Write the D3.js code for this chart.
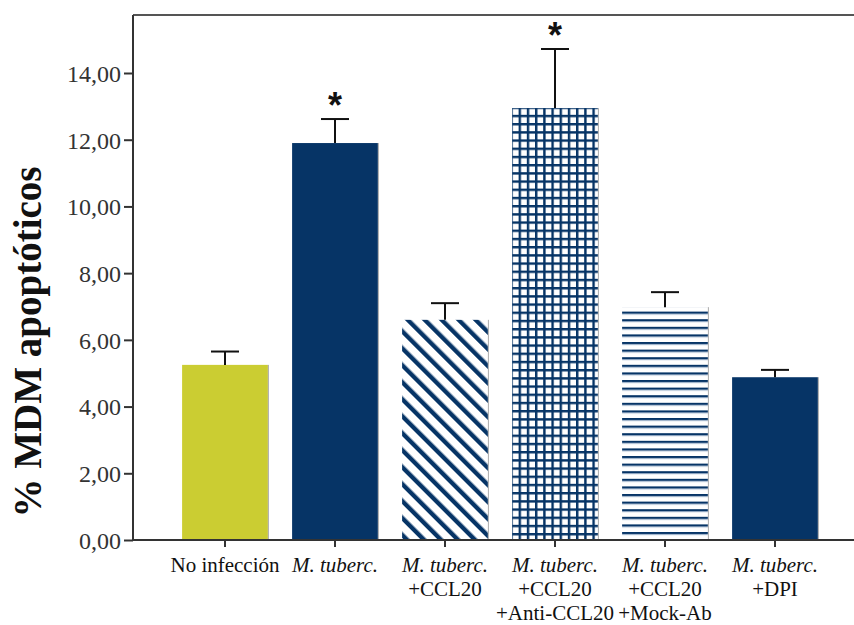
<!DOCTYPE html>
<html>
<head>
<meta charset="utf-8">
<script src="https://cdn.jsdelivr.net/npm/d3@7"></script>
<style>
  body { margin: 0; background: #fff; }
  svg { display: block; }
</style>
</head>
<body>
<div id="chart"></div>
<script>
// groups on the x axis (each label split into lines)
const groups = ["g1", "g2", "g3", "g4", "g5", "g6"];
const groupLabels = [
  [{ t: "No infección", it: false }],
  [{ t: "M. tuberc.", it: true }],
  [{ t: "M. tuberc.", it: true }, { t: "+CCL20", it: false }],
  [{ t: "M. tuberc.", it: true }, { t: "+CCL20", it: false }, { t: "+Anti-CCL20", it: false }],
  [{ t: "M. tuberc.", it: true }, { t: "+CCL20", it: false }, { t: "+Mock-Ab", it: false }],
  [{ t: "M. tuberc.", it: true }, { t: "+DPI", it: false }]
];
// mean % of apoptotic MDM and upper error
const means = [5.25, 11.9, 6.6, 12.95, 6.98, 4.88];
const errors = [0.4, 0.72, 0.5, 1.77, 0.45, 0.22];
const significant = [false, true, false, true, false, false];
const fills = ["solid-yellow", "solid-navy", "diag", "grid", "hlines", "solid-navy"];
const yTicks = [0, 2, 4, 6, 8, 10, 12, 14];

const width = 854, height = 625;
const navy = "#063466", yellow = "#cbcd32";
const axisX = 133, axisY = 540, topY = 15;
const serif = "'Liberation Serif', 'Times New Roman', serif";

const svg = d3.select("#chart").append("svg")
  .attr("width", width)
  .attr("height", height);

// patterns for the hatched bars
const defs = svg.append("defs");

const diag = defs.append("pattern")
  .attr("id", "diag")
  .attr("patternUnits", "userSpaceOnUse")
  .attr("width", 12).attr("height", 12)
  .attr("patternTransform", "rotate(-45)");
diag.append("rect").attr("width", 12).attr("height", 12).attr("fill", "#fff");
diag.append("rect").attr("x", 0).attr("y", 0).attr("width", 4.4).attr("height", 12).attr("fill", navy);

const grid = defs.append("pattern")
  .attr("id", "grid")
  .attr("patternUnits", "userSpaceOnUse")
  .attr("width", 8.2).attr("height", 8.2)
  .attr("x", 2).attr("y", 0);
grid.append("rect").attr("width", 8.2).attr("height", 8.2).attr("fill", "#fff");
grid.append("rect").attr("width", 2.4).attr("height", 8.2).attr("fill", navy);
grid.append("rect").attr("width", 8.2).attr("height", 2.4).attr("fill", navy);

const hl = defs.append("pattern")
  .attr("id", "hlines")
  .attr("patternUnits", "userSpaceOnUse")
  .attr("width", 10).attr("height", 7.6);
hl.append("rect").attr("width", 10).attr("height", 7.6).attr("fill", "#fff");
hl.append("rect").attr("y", 0).attr("width", 10).attr("height", 2).attr("fill", navy);
hl.append("rect").attr("y", 2).attr("width", 10).attr("height", 1).attr("fill", "#8fa6c2");

function fillOf(f) {
  if (f === "solid-yellow") return yellow;
  if (f === "solid-navy") return navy;
  return `url(#${f})`;
}

// scales
const x = d3.scaleBand()
  .domain(groups)
  .range([170, 830])
  .paddingInner(0.22)
  .paddingOuter(0.11);

const y = d3.scaleLinear()
  .domain([0, 14])
  .range([axisY, 73]);

// bars
svg.append("g")
  .selectAll("rect")
  .data(means)
  .enter()
  .append("rect")
  .attr("x", (d, i) => x(groups[i]))
  .attr("y", d => y(d))
  .attr("width", x.bandwidth())
  .attr("height", d => y(0) - y(d))
  .attr("fill", (d, i) => fillOf(fills[i]));

// faint right edge on bars
svg.append("g")
  .selectAll("line")
  .data(means)
  .enter()
  .append("line")
  .attr("x1", (d, i) => x(groups[i]) + x.bandwidth() + 0.5)
  .attr("x2", (d, i) => x(groups[i]) + x.bandwidth() + 0.5)
  .attr("y1", d => y(d))
  .attr("y2", y(0))
  .attr("stroke", "#aaa")
  .attr("stroke-width", 1);

// error bars (upper only)
const eb = svg.append("g").attr("stroke", "#111").attr("stroke-width", 2);
means.forEach((m, i) => {
  const cx = x(groups[i]) + x.bandwidth() / 2;
  eb.append("line")
    .attr("x1", cx).attr("x2", cx)
    .attr("y1", y(m)).attr("y2", y(m + errors[i]));
  eb.append("line")
    .attr("x1", cx - 14).attr("x2", cx + 14)
    .attr("y1", y(m + errors[i])).attr("y2", y(m + errors[i]));
  if (significant[i]) {
    svg.append("text")
      .attr("x", cx)
      .attr("y", y(m + errors[i]) - 1)
      .attr("text-anchor", "middle")
      .attr("font-family", "'Liberation Sans', Arial, sans-serif")
      .attr("font-weight", "bold")
      .attr("font-size", 36)
      .attr("fill", "#111")
      .text("*");
  }
});

// frame top line
svg.append("line")
  .attr("x1", axisX).attr("x2", width)
  .attr("y1", topY).attr("y2", topY)
  .attr("stroke", "#555").attr("stroke-width", 2);

// y axis
const fmt = d => d3.format(".2f")(d).replace(".", ",");
const yAxis = svg.append("g")
  .attr("transform", `translate(${axisX},0)`)
  .call(d3.axisLeft(y).tickValues(yTicks).tickFormat(fmt).tickSize(9).tickPadding(3));
yAxis.select(".domain").remove();
yAxis.append("line")
  .attr("x1", 0).attr("x2", 0)
  .attr("y1", topY).attr("y2", axisY)
  .attr("stroke", "#333").attr("stroke-width", 2);
yAxis.selectAll(".tick line").attr("stroke", "#333").attr("stroke-width", 2);
yAxis.selectAll(".tick text")
  .attr("font-family", serif)
  .attr("font-size", 24)
  .attr("fill", "#333")
  .attr("dy", "0.35em");

// x axis
const xAxis = svg.append("g")
  .attr("transform", `translate(0,${axisY})`)
  .call(d3.axisBottom(x).tickSize(7).tickFormat(""));
xAxis.select(".domain").remove();
xAxis.append("line")
  .attr("x1", axisX).attr("x2", width)
  .attr("y1", 0).attr("y2", 0)
  .attr("stroke", "#333").attr("stroke-width", 2);
xAxis.selectAll(".tick line").attr("stroke", "#333").attr("stroke-width", 2);

// multi-line x labels
groupLabels.forEach((lines, i) => {
  const cx = x(groups[i]) + x.bandwidth() / 2;
  lines.forEach((ln, j) => {
    svg.append("text")
      .attr("x", cx)
      .attr("y", 572 + j * 24)
      .attr("text-anchor", "middle")
      .attr("font-family", serif)
      .attr("font-size", 21)
      .attr("font-style", ln.it ? "italic" : "normal")
      .attr("fill", "#111")
      .text(ln.t);
  });
});

// y title
svg.append("text")
  .attr("transform", `translate(41,342) rotate(-90)`)
  .attr("text-anchor", "middle")
  .attr("font-family", serif)
  .attr("font-weight", "bold")
  .attr("font-size", 39)
  .attr("fill", "#111")
  .text("% MDM apoptóticos");
</script>
</body>
</html>
